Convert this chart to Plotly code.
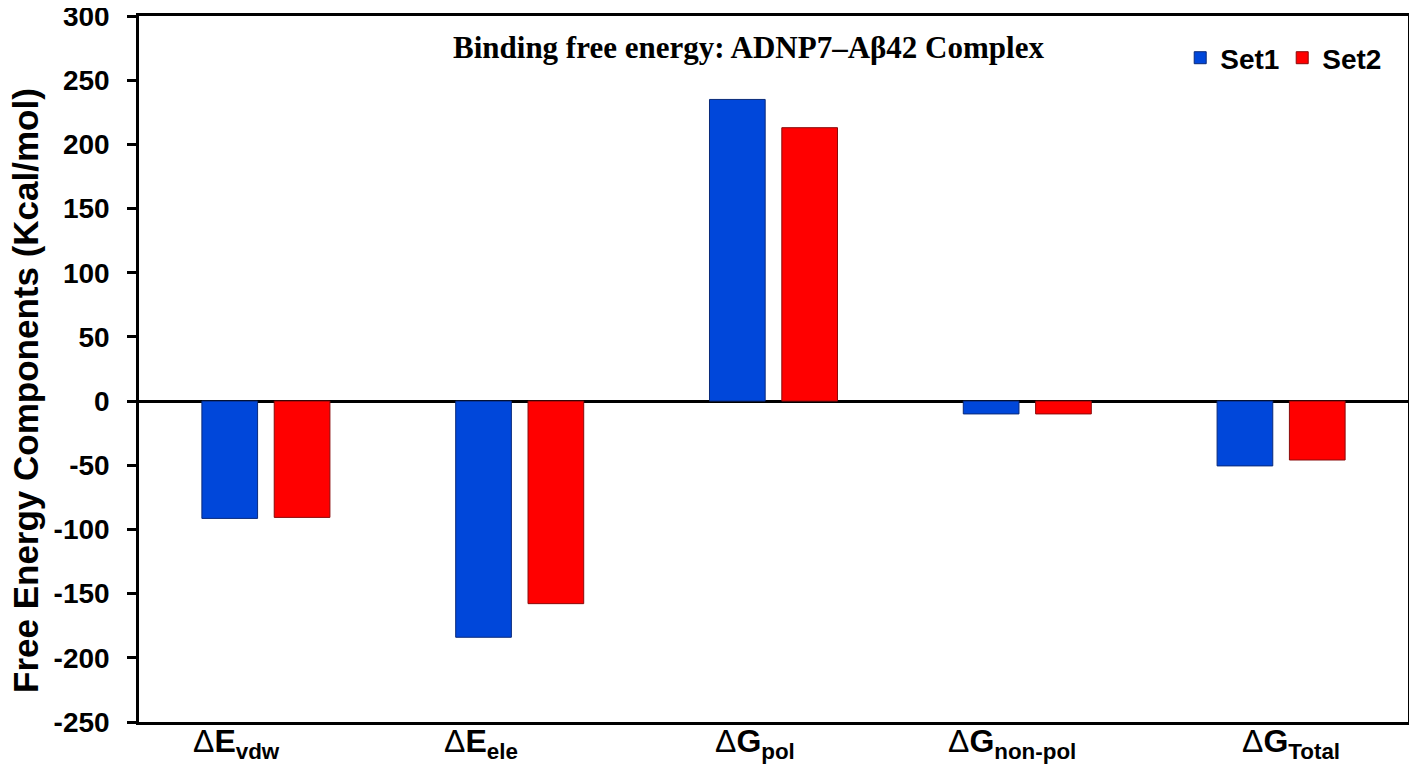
import plotly.graph_objects as go

categories = ["ΔEvdw", "ΔEele", "ΔGpol", "ΔGnon-pol", "ΔGTotal"]
cat_main = ["E", "E", "G", "G", "G"]
cat_sub = ["vdw", "ele", "pol", "non-pol", "Total"]
set1 = [-91.4, -184.0, 235.0, -10.0, -50.5]
set2 = [-90.6, -157.8, 213.0, -10.0, -45.9]
series_names = ["Set1", "Set2"]
y_ticks = [300, 250, 200, 150, 100, 50, 0, -50, -100, -150, -200, -250]
title_text = "Binding free energy: ADNP7–Aβ42 Complex"
y_title = "Free Energy Components (Kcal/mol)"

SANS = "Arial, Liberation Sans, sans-serif"
SERIF = "Times New Roman, Liberation Serif, serif"

fig = go.Figure()
fig.add_trace(go.Bar(x=categories, y=set1, name=series_names[0],
                     marker=dict(color="#0047DA", line=dict(color="#0A2A7A", width=1))))
fig.add_trace(go.Bar(x=categories, y=set2, name=series_names[1],
                     marker=dict(color="#FF0000", line=dict(color="#8A0A0A", width=1))))

# x category labels as annotations (slightly offset as in the reference)
xshifts = [-29, -39, -19, -15, 10]
for c, m, s, dx in zip(categories, cat_main, cat_sub, xshifts):
    fig.add_annotation(x=c, xref="x", y=0, yref="paper", xanchor="center", yanchor="top",
                       text=f"Δ<b>{m}</b><sub><b>{s}</b></sub>", showarrow=False,
                       xshift=dx, yshift=1,
                       font=dict(family=SANS, size=32, color="black"))

fig.add_annotation(x=0.48, xref="paper", y=0.9547, yref="paper",
                   xanchor="center", yanchor="middle",
                   text=f"<b>{title_text}</b>", showarrow=False,
                   font=dict(family=SERIF, size=31, color="black"))

fig.add_annotation(x=-0.09, xref="paper", y=0.47, yref="paper",
                   xanchor="center", yanchor="middle",
                   text=f"<b>{y_title}</b>", showarrow=False, textangle=-90,
                   font=dict(family=SANS, size=35, color="black"))

fig.update_layout(
    width=1409, height=765,
    margin=dict(l=131, r=9, t=8, b=51),
    paper_bgcolor="white", plot_bgcolor="white",
    barmode="group", bargap=0.43, bargroupgap=0.23,
    showlegend=True,
    legend=dict(orientation="h", x=0.8205, xanchor="left", y=0.9405, yanchor="middle",
                font=dict(family=SANS, size=28, color="black", weight="bold"),
                bgcolor="rgba(0,0,0,0)", itemwidth=30, entrywidth=57,
                traceorder="normal"),
    font=dict(family=SANS, color="black"),
)
fig.update_xaxes(showticklabels=False, showline=True, linecolor="black", linewidth=2.5,
                 mirror=True, ticks="", showgrid=False, zeroline=False, automargin=False)
fig.update_yaxes(range=[-250, 300], tickvals=y_ticks, ticktext=[str(v) for v in y_ticks],
                 showline=True, linecolor="black", linewidth=2.5, mirror=True,
                 ticks="outside", ticklen=9, tickwidth=2.5, tickcolor="black",
                 ticklabelstandoff=12, automargin=False, ticklabeloverflow="allow",
                 tickfont=dict(family=SANS, size=28, color="black", weight="bold"),
                 showgrid=False, zeroline=True, zerolinecolor="black", zerolinewidth=2.5)

fig.write_html("out.html")
